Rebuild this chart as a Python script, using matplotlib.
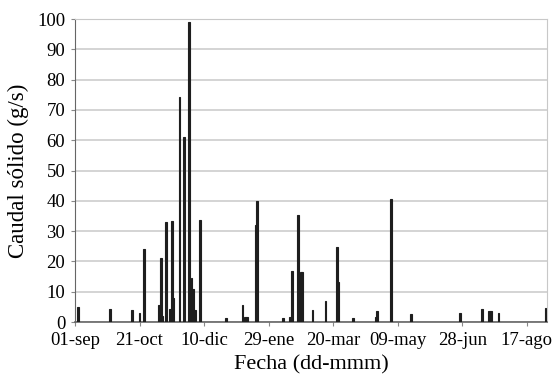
import numpy as np
import matplotlib
matplotlib.use("Agg")
import matplotlib.pyplot as plt

# dias desde 01-sep y caudal solido (g/s)
dias = [2.5, 27, 44, 50, 53.5, 65, 66.4, 67.5, 70.5, 73.6, 75.4, 76.3,
        80.9, 84.5, 88.4, 90.2, 91.4, 92.8, 97, 117,
        129.7, 132, 133.5, 140, 141, 161, 166.7, 168, 173, 174.8, 175.8,
        184, 194, 203, 204, 215.5, 233, 233.8, 245,
        260.5, 298, 315, 321, 322.2, 328, 364.5]
caudal = [5, 4.2, 4, 3, 24.2, 5.6, 21.2, 2, 33, 4.3, 33.4, 8,
          74.2, 61, 99.2, 14.4, 11, 4, 33.7, 1.2,
          5.7, 1.7, 1.7, 32, 40, 1.2, 1.5, 16.7, 35.3, 16.5, 16.5,
          3.9, 6.9, 24.7, 13.3, 1.4, 1.5, 3.7, 40.7,
          2.5, 3, 4.2, 3.6, 3.6, 3, 4.5]

tick_dias = [0, 50, 100, 150, 200, 250, 300, 350]
tick_labels = ["01-sep", "21-oct", "10-dic", "29-ene", "20-mar", "09-may", "28-jun", "17-ago"]

plt.rcParams['font.family'] = ['Liberation Serif', 'DejaVu Serif']

fig = plt.figure(figsize=(5.58, 3.75), dpi=100)
ax = fig.add_axes([0.1344, 0.1413, 0.8456, 0.8077])

ax.bar(dias, caudal, width=1.4, color="#1e1e1e", edgecolor="#1e1e1e",
       linewidth=0.8, zorder=3)

ax.set_xlim(0, 365.5)
ax.set_ylim(0, 100)
ax.set_yticks(np.arange(0, 101, 10))
ax.set_xticks(tick_dias)
ax.set_xticklabels(tick_labels)
ax.yaxis.grid(True, color="#cdcdcd", linewidth=1.2, zorder=0)
ax.set_axisbelow(True)

for s in ["top", "right"]:
    ax.spines[s].set_color("#c8c8c8")
for s in ["left", "bottom"]:
    ax.spines[s].set_color("#666666")
ax.spines["bottom"].set_linewidth(1.2)
ax.tick_params(axis="both", direction="out", length=3, color="#888888",
               labelsize=13.5, pad=4)

ax.set_xlabel("Fecha (dd-mmm)", fontsize=16, labelpad=5)
ax.set_ylabel("Caudal sólido (g/s)", fontsize=16.5, labelpad=6)

fig.savefig("out.png", dpi=100)
